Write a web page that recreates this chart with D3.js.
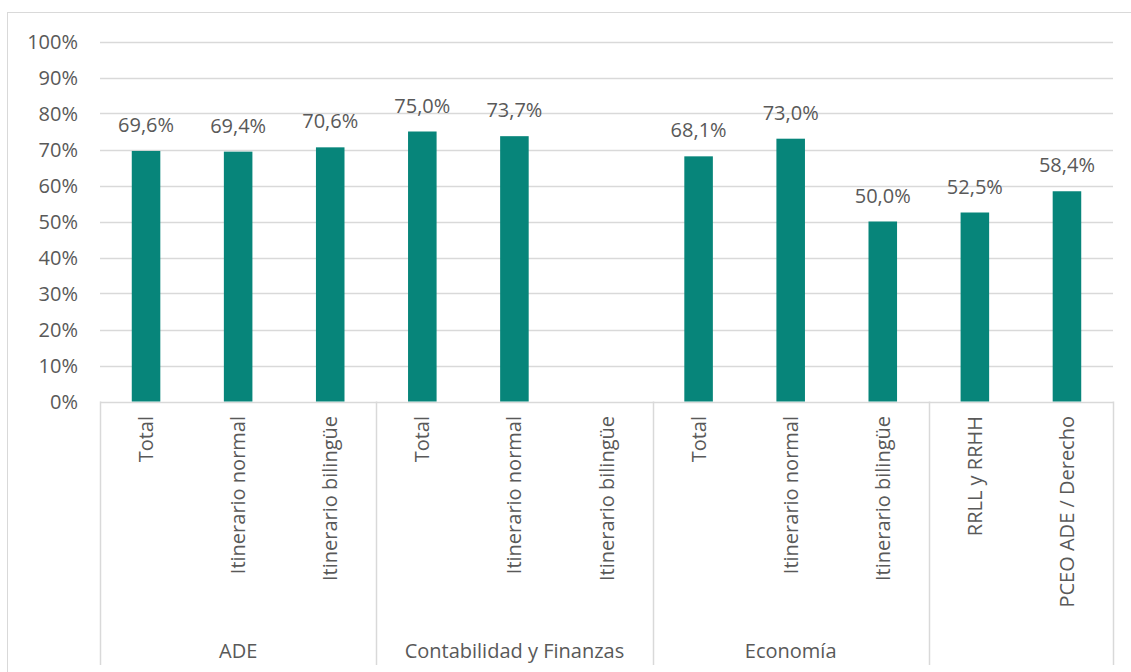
<!DOCTYPE html>
<html><head><meta charset="utf-8">
<script src="https://cdn.jsdelivr.net/npm/d3@7"></script>
<style>body{margin:0;background:#fff}svg{display:block}text{font-family:"Open Sans",sans-serif;fill:#595959}</style>
</head><body>
<svg id="c" width="1131" height="672"></svg>
<script>
const categories = ["Total","Itinerario normal","Itinerario bilingüe","Total","Itinerario normal","Itinerario bilingüe","Total","Itinerario normal","Itinerario bilingüe","RRLL y RRHH","PCEO ADE / Derecho"];
const groupOf = [0,0,0,1,1,1,2,2,2,3,3];
const groupLabels = ["ADE","Contabilidad y Finanzas","Economía",""];
const values = [0.696,0.694,0.706,0.750,0.737,null,0.681,0.730,0.500,0.525,0.584];
const yTicks = [0,0.1,0.2,0.3,0.4,0.5,0.6,0.7,0.8,0.9,1.0];

(function(){
const svg = d3.select("#c");
const pLeft=100, pRight=1113, pTop=41.5, pBottom=401.5, axisBottom=665;
svg.append("rect").attr("x",7.5).attr("y",12.5).attr("width",1130).attr("height",670)
  .attr("fill","none").attr("stroke","#d9d9d9").attr("stroke-width",1);

const idx = d3.range(categories.length);
const x = d3.scaleBand().domain(idx).range([pLeft,pRight]).paddingInner(0.69).paddingOuter(0.345);
const y = d3.scaleLinear().domain([0,1]).range([pBottom,pTop]);
const fmtTick = d3.format(".0%");
const fmtVal = v => d3.format(".1f")(v*100).replace(".",",")+"%";

svg.append("g").selectAll("line").data(yTicks).join("line")
  .attr("x1",pLeft).attr("x2",pRight).attr("y1",d=>Math.round(y(d))+0.5).attr("y2",d=>Math.round(y(d))+0.5)
  .attr("stroke","#d9d9d9").attr("stroke-width",1.5);
svg.append("g").selectAll("text").data(yTicks).join("text")
  .attr("x",78).attr("y",d=>y(d)).attr("dy","0.35em").attr("text-anchor","end")
  .attr("font-size",20).text(fmtTick);

const data = idx.map(i=>({i,v:values[i]})).filter(d=>d.v!=null);
svg.append("g").selectAll("rect").data(data).join("rect")
  .attr("x",d=>x(d.i)).attr("width",x.bandwidth())
  .attr("y",d=>y(d.v)).attr("height",d=>y(0)-y(d.v)).attr("fill","#07857a");
svg.append("g").selectAll("text").data(data).join("text")
  .attr("x",d=>x(d.i)+x.bandwidth()/2).attr("y",d=>y(d.v)-19).attr("text-anchor","middle")
  .attr("font-size",20).text(d=>fmtVal(d.v));

svg.append("g").selectAll("text").data(idx).join("text")
  .attr("transform",i=>`translate(${x(i)+x.bandwidth()/2},416) rotate(-90)`)
  .attr("dy","0.35em").attr("text-anchor","end").attr("font-size",20).text(i=>categories[i]);

const groups = d3.groups(idx, i=>groupOf[i]);
const step = x.step();
const sepX = [pLeft].concat(groups.map(([g,m])=> pLeft + (m[m.length-1]+1)*step));
svg.append("g").selectAll("line").data(sepX).join("line")
  .attr("x1",d=>Math.round(d)+0.5).attr("x2",d=>Math.round(d)+0.5).attr("y1",pBottom).attr("y2",axisBottom)
  .attr("stroke","#d9d9d9").attr("stroke-width",1.5);
svg.append("g").selectAll("text").data(groups).join("text")
  .attr("x",([g,m])=> pLeft + (m[0] + m.length/2)*step).attr("y",651).attr("dy","0.35em")
  .attr("text-anchor","middle").attr("font-size",20).text(([g])=>groupLabels[g]);
})();
</script>
</body></html>
